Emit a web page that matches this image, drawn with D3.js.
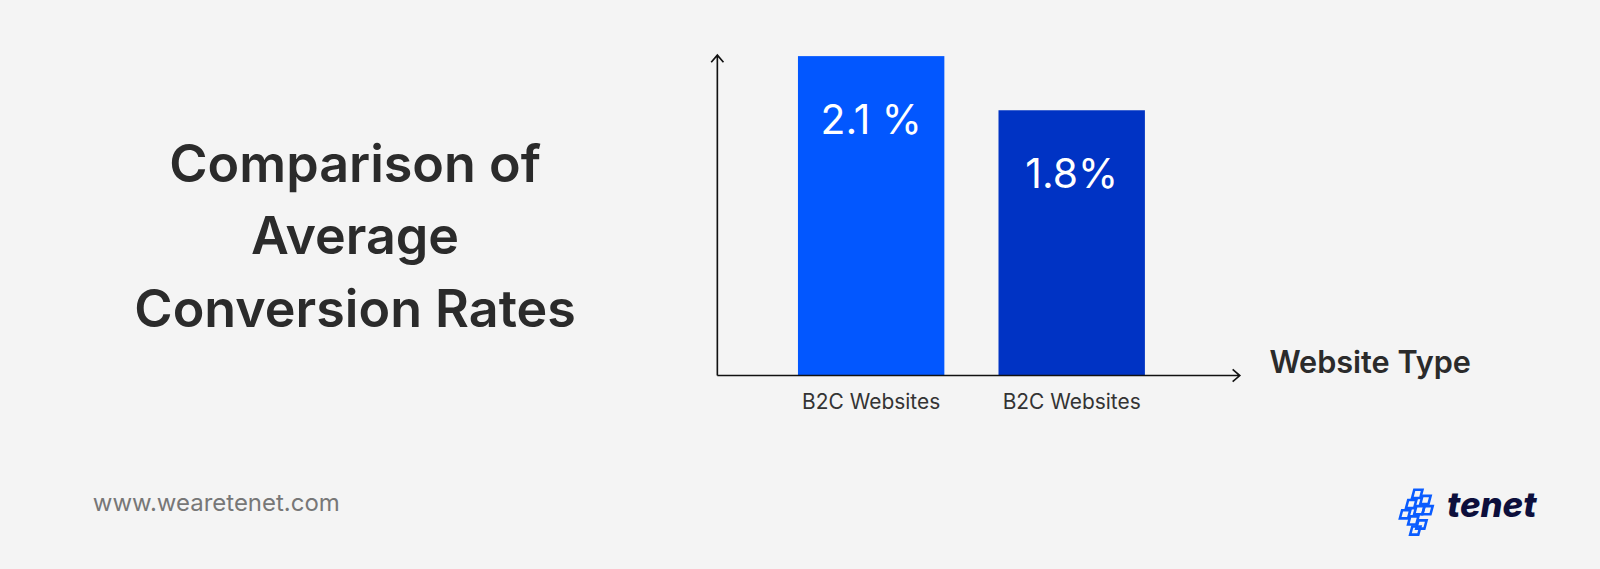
<!DOCTYPE html>
<html>
<head>
<meta charset="utf-8">
<script src="https://cdn.jsdelivr.net/npm/d3@7"></script>
<style>
  body { margin: 0; background: #f4f4f4; }
  text { font-family: Inter, "Open Sans", sans-serif; }
</style>
</head>
<body>
<div id="chart"></div>
<script>
const categories = ["B2C Websites", "B2C Websites"];
const values = [2.1, 1.8];
const valueLabels = ["2.1 %", "1.8%"];
const barColors = ["#0257ff", "#0033c4"];
const titleLines = ["Comparison of", "Average", "Conversion Rates"];

const width = 1600, height = 569;
const svgRoot = d3.select("#chart").append("svg")
    .attr("width", width).attr("height", height);
svgRoot.append("rect").attr("width", width).attr("height", height).attr("fill", "#f4f4f4");
// layout measured on a 1568-wide copy, scale up to 1600
const svg = svgRoot.append("g").attr("transform", `scale(${1600 / 1568})`);

// title
svg.selectAll(".title").data(titleLines).join("text")
    .attr("x", 348).attr("y", (d, i) => 178 + i * 71)
    .attr("text-anchor", "middle")
    .attr("font-size", 51).attr("font-weight", 600)
    .attr("fill", "#2b2b2b")
    .text(d => d);

const x0 = 703, baseY = 368;
const x = d3.scaleBand().domain(d3.range(categories.length))
    .range([782, 1122]).paddingInner(0.27).paddingOuter(0);
const y = d3.scaleLinear().domain([0.33, 2.1]).range([baseY, 55]);

svg.selectAll(".bar").data(values).join("rect")
    .attr("x", (d, i) => x(i)).attr("width", x.bandwidth())
    .attr("y", d => y(d)).attr("height", d => baseY - y(d))
    .attr("fill", (d, i) => barColors[i]);

svg.selectAll(".val").data(values).join("text")
    .attr("x", (d, i) => x(i) + x.bandwidth() / 2)
    .attr("y", d => y(d) + 76)
    .attr("text-anchor", "middle").attr("fill", "#fff")
    .attr("font-size", 40).attr("font-weight", 400)
    .text((d, i) => valueLabels[i]);

svg.selectAll(".cat").data(categories).join("text")
    .attr("x", (d, i) => x(i) + x.bandwidth() / 2).attr("y", 401)
    .attr("text-anchor", "middle").attr("fill", "#333")
    .attr("font-size", 20.5).text(d => d);

// axes with arrows
const ax = svg.append("g").attr("stroke", "#111").attr("stroke-width", 1.6).attr("fill", "none");
ax.append("path").attr("d", `M${x0},${baseY}V54M${x0 - 6},61L${x0},54L${x0 + 6},61`);
ax.append("path").attr("d", `M${x0},${baseY}H1215M1208,${baseY - 6}L1215,${baseY}L1208,${baseY + 6}`);

svg.append("text").attr("x", 1244).attr("y", 366)
    .attr("font-size", 30).attr("font-weight", 600).attr("fill", "#2b2b2b")
    .text("Website Type");

svg.append("text").attr("x", 91).attr("y", 501)
    .attr("font-size", 23.5).attr("fill", "#777").text("www.wearetenet.com");

// logo
const logo = svg.append("g").attr("transform", "translate(1372,480)")
    .attr("fill", "none").attr("stroke", "#0a5cff").attr("stroke-width", 2.6);
const cells = [[14,0],[22,6],[8,10],[16,16],[24,16],[2,20],[10,26],[18,30],[12,36]];
cells.forEach(c => logo.append("rect").attr("x", c[0]).attr("y", c[1])
    .attr("width", 8).attr("height", 8)
    .attr("transform", `skewX(-15) translate(${c[1] * 0.27},0)`));
svg.append("text").attr("x", 1418).attr("y", 507)
    .attr("font-size", 34).attr("font-weight", 800).attr("font-style", "italic")
    .attr("fill", "#0d0f3c").text("tenet");
</script>
</body>
</html>
